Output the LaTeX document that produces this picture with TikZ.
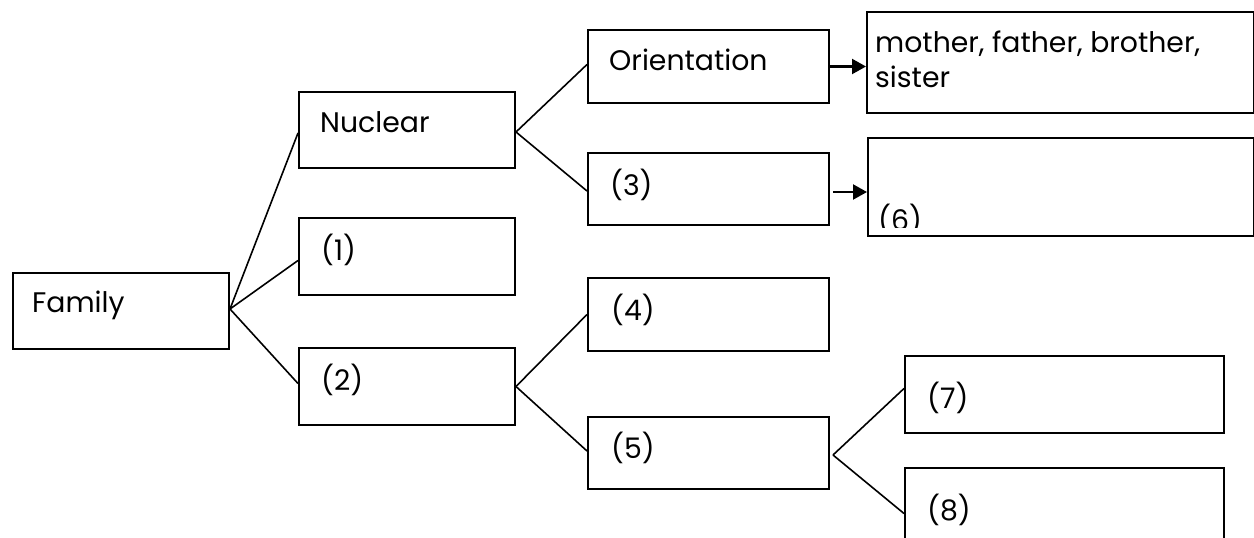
\documentclass[tikz,border=0pt]{standalone}
\usepackage{fontspec}
\setmainfont{Poppins}
\usetikzlibrary{arrows.meta}
\begin{document}
\begin{tikzpicture}[x=1pt,y=-1pt,
  box/.style={draw, line width=2pt, rectangle, inner sep=0pt, anchor=north west},
  txt/.style={anchor=base west, inner sep=0pt, font=\fontsize{28.3}{35.6}\selectfont},
  link/.style={line width=1.6pt},
  arr/.style={line width=2.2pt, -{Triangle[length=14pt,width=15pt]}}]
\useasboundingbox (0,0) rectangle (1254,538);
\clip (0,0) rectangle (1254,538);
% boxes
\node[box, minimum width=216pt, minimum height=76pt] (fam) at (12,272) {};
\node[box, minimum width=216pt, minimum height=76pt] (nuc) at (298,91) {};
\node[box, minimum width=216pt, minimum height=77pt] (one) at (298,217) {};
\node[box, minimum width=216pt, minimum height=77pt] (two) at (298,347) {};
\node[box, minimum width=241pt, minimum height=73pt] (ori) at (587,29) {};
\node[box, minimum width=241pt, minimum height=72pt] (three) at (587,152) {};
\node[box, minimum width=241pt, minimum height=73pt] (four) at (587,277) {};
\node[box, minimum width=241pt, minimum height=72pt] (five) at (587,416) {};
\node[box, minimum width=387pt, minimum height=101pt] (moth) at (866,11) {};
\node[box, minimum width=386pt, minimum height=98pt] (six) at (867,137) {};
\node[box, minimum width=319pt, minimum height=77pt] (seven) at (904,355) {};
\node[box, minimum width=319pt, minimum height=77pt] (eight) at (904,467) {};
% texts
\node[txt] (tfam) at ([xshift=20pt,yshift=-40pt]fam.north west) {Family};
\node[txt] (tnuc) at ([xshift=22pt,yshift=-41pt]nuc.north west) {Nuclear};
\node[txt] (tone) at ([xshift=23pt,yshift=-43pt]one.north west) {(1)};
\node[txt] (ttwo) at ([xshift=23pt,yshift=-43pt]two.north west) {(2)};
\node[txt] (tori) at ([xshift=22pt,yshift=-41pt]ori.north west) {Orientation};
\node[txt] (tthree) at ([xshift=23pt,yshift=-43pt]three.north west) {(3)};
\node[txt] (tfour) at ([xshift=24pt,yshift=-43pt]four.north west) {(4)};
\node[txt] (tfive) at ([xshift=24pt,yshift=-42pt]five.north west) {(5)};
\node[txt, align=left] (tmoth) at ([xshift=9pt,yshift=-76.6pt]moth.north west) {mother, father, brother,\\sister};
\begin{scope}
\clip (867,137) rectangle (1253,227);
\node[txt] (tsix) at ([xshift=11pt,yshift=-93pt]six.north west) {(6)};
\end{scope}
\node[txt] (tseven) at ([xshift=23pt,yshift=-53pt]seven.north west) {(7)};
\node[txt] (teight) at ([xshift=23pt,yshift=-53pt]eight.north west) {(8)};
% connectors
\coordinate (jfam) at ([yshift=2pt]fam.east);
\coordinate (jnuc) at ([yshift=-2pt]nuc.east);
\coordinate (jfive) at ([xshift=3pt,yshift=-2pt]five.east);
\coordinate (a3) at ([xshift=3pt,yshift=-3pt]three.east);
\draw[link] (jfam) -- ([yshift=-3pt]nuc.west);
\draw[link] (jfam) -- ([yshift=-4pt]one.west);
\draw[link] (jfam) -- ([yshift=3pt]two.west);
\draw[link] (jnuc) -- ([yshift=2pt]ori.west);
\draw[link] (jnuc) -- ([yshift=-2pt]three.west);
\draw[link] (two.east) -- (four.west);
\draw[link] (two.east) -- ([yshift=2pt]five.west);
\draw[link] (jfive) -- ([yshift=6pt]seven.west);
\draw[link] (jfive) -- ([yshift=-7pt]eight.west);
\draw[arr] (ori.east) -- (moth.west |- ori.east);
\draw[arr] (a3) -- (six.west |- a3);
\end{tikzpicture}
\end{document}
